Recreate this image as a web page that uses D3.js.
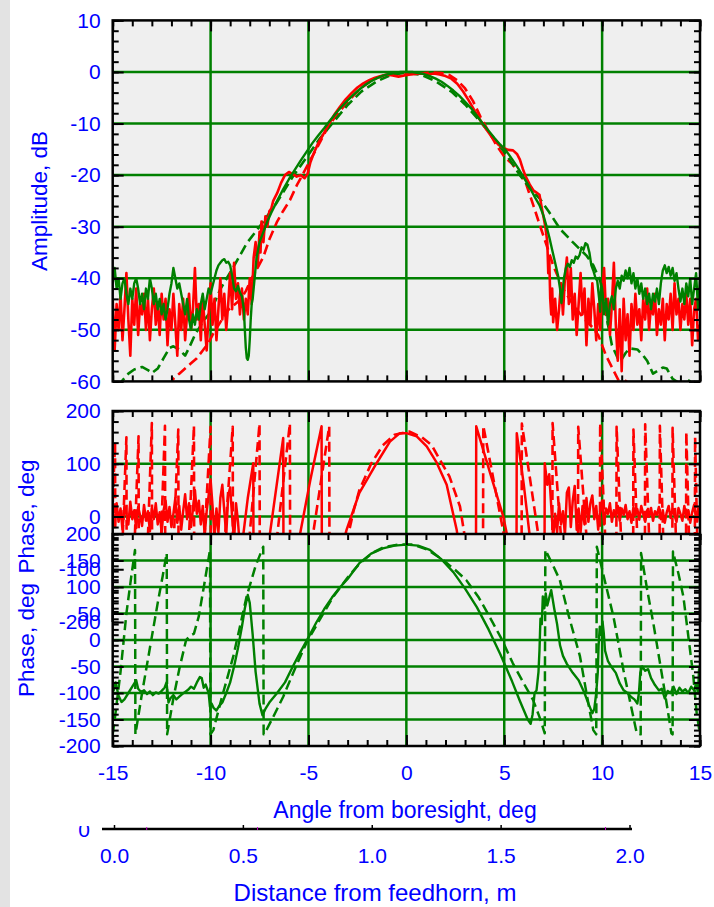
<!doctype html>
<html lang="en">
<head>
  <meta charset="utf-8">
  <style>
    body { margin: 0; background: #fff; }
    svg { display: block; }
  </style>
</head>
<body>
  <script src="https://d3js.org/d3.v7.min.js"></script>
  <div id="chart"></div>
  <script>
    // ---- tick values ----
    var angleMajor = [-15, -10, -5, 0, 5, 10, 15];
    var angleGrid = [-10, -5, 0, 5, 10];
    var ampTicks = [10, 0, -10, -20, -30, -40, -50, -60];
    var redPhaseTicks = [200, 100, 0, -100, -200];
    var greenPhaseTicks = [200, 150, 100, 50, 0, -50, -100, -150, -200];
    var distTicks = [0, 0.5, 1, 1.5, 2];

    // ---- amplitude, dB (sidelobe noise sampled every 0.1 deg) ----
    var ampRedNoiseL = [-44,-54,-45,-50,-43,-52,-46,-39,-48,-55,
      -44,-49,-42,-51,-45,-47,-43,-50,-44,-52,
      -46,-42,-49,-45,-51,-43,-48,-44,-53,-46,
      -50,-43,-49,-55,-45,-50,-44,-52,-47,-43,
      -50,-46,-38,-48,-45,-52,-44,-49,-54,-47,
      -41,-49,-44,-52,-46,-40,-48,-43,-50,-45,
      -39,-46,-37,-44,-41,-47,-42,-48,-44,-47,
      -40,-45,-36,-33];
    var ampRedLobe = [[-7.6,-38],[-7.5,-31],[-7.45,-35],[-7.4,-29],[-7.3,-33],[-7.2,-28],[-7.1,-30],[-7.0,-27],
      [-6.9,-26.5],[-6.8,-25],[-6.6,-23.5],[-6.4,-21.5],[-6.2,-20],[-6.0,-19.4],[-5.8,-19.8],[-5.6,-20.3],
      [-5.4,-20],[-5.2,-20.6],[-5.05,-19.8],[-4.9,-17.5],[-4.7,-15.5],[-4.5,-13.8],[-4.3,-12.5],[-4.0,-10.4],
      [-3.7,-8.4],[-3.4,-6.8],[-3.1,-5.3],[-2.8,-4.1],[-2.5,-3.0],[-2.2,-2.2],[-1.9,-1.6],[-1.6,-1.1],
      [-1.3,-0.8],[-1.0,-0.5],[-0.7,-0.7],[-0.4,-0.9],[-0.1,-0.7],[0.2,-0.5],[0.5,-0.4],[0.8,-0.3],
      [1.1,-0.5],[1.4,-0.3],[1.7,-0.5],[2.0,-0.8],[2.3,-1.3],[2.6,-2.3],[2.9,-3.8],[3.2,-5.6],[3.5,-7.6],
      [3.8,-9.5],[4.1,-11.2],[4.4,-12.8],[4.7,-14.1],[5.0,-14.8],[5.2,-15.1],[5.45,-15.2],[5.65,-15.9],
      [5.8,-17.0],[5.95,-18.8],[6.1,-20.3],[6.3,-21.8],[6.5,-23],[6.65,-23.4],[6.8,-23.8],[6.9,-26],
      [7.0,-28],[7.1,-30],[7.2,-33],[7.25,-39],[7.3,-36],[7.35,-44],[7.4,-47],[7.45,-42],[7.5,-48.5]];
    var ampRedNoiseR = [-44,-50,-46,-41,-47,-40,-36,-45,-38,-48,
      -43,-51,-45,-39,-47,-42,-53,-44,-49,-41,
      -46,-52,-45,-50,-43,-38,-47,-44,-51,-45,
      -37,-49,-56,-46,-58,-44,-52,-47,-55,-45,
      -50,-43,-49,-46,-52,-44,-48,-42,-50,-45,
      -47,-43,-51,-46,-49,-44,-52,-45,-48,-43,
      -50,-41,-47,-44,-50,-45,-48,-43,-49,-44,
      -53,-46,-44,-52,-49];
    var ampRedModel = [[-12.1,-61],[-11.9,-59.5],[-11.6,-58.5],[-11.3,-57.5],[-11.0,-56.5],[-10.7,-55.5],
      [-10.4,-54],[-10.1,-52.5],[-9.86,-50.7],[-9.5,-48.5],[-9.2,-46.5],[-8.9,-45.5],[-8.5,-44.2],[-8.2,-42.5],
      [-7.9,-40],[-7.6,-38],[-7.3,-35.8],[-7.0,-32.5],[-6.6,-29],[-6.3,-27],[-5.94,-24.8],[-5.6,-22],
      [-5.27,-19.7],[-4.9,-17],[-4.6,-15],[-4.3,-12.8],[-4.0,-10.7],[-3.6,-8.5],[-3.0,-5.8],[-2.6,-4.2],
      [-2.2,-2.8],[-1.8,-1.7],[-1.4,-1.0],[-1.0,-0.6],[-0.6,-0.4],[-0.2,-0.5],[0.2,-0.4],[0.6,-0.3],
      [1.0,-0.2],[1.4,-0.1],[1.8,-0.2],[2.2,-0.6],[2.6,-1.6],[3.0,-3.2],[3.4,-5.6],[3.8,-8.8],[4.2,-11.5],
      [4.6,-14.2],[5.0,-16.4],[5.4,-17.8],[5.8,-19.8],[6.1,-21.5],[6.5,-26],[6.8,-29.5],[7.2,-34],
      [7.5,-37.5],[8.0,-42],[8.5,-45],[9.0,-47.5],[9.5,-49.5],[9.8,-51],[10.2,-55],[10.6,-58],
      [10.8,-59.5],[11.0,-61],[11.3,-59.5],[11.5,-61]];
    var ampGreenNoiseL = [-41,-38,-42,-40,-44,-41,-40,-43,-45,-42,
      -44,-41,-40,-42,-45,-43,-46,-42,-44,-40,
      -42,-45,-43,-46,-44,-47,-45,-48,-46,-43,
      -41,-38,-40,-42,-41,-43,-45,-47,-44,-48,
      -50,-47,-49,-46,-48,-45,-43,-46,-44,-42,
      -43];
    var ampGreenLobe = [[-9.9,-41.5],[-9.8,-40],[-9.7,-38.5],[-9.6,-37.5],[-9.5,-37],[-9.4,-36.5],[-9.3,-36.3],
      [-9.2,-37],[-9.1,-36.8],[-9.0,-37.5],[-8.9,-39.5],[-8.8,-42],[-8.7,-42.5],[-8.6,-41.5],[-8.5,-42.8],
      [-8.4,-43.5],[-8.3,-46],[-8.25,-50],[-8.2,-53.5],[-8.15,-55.5],[-8.1,-55.8],[-8.05,-55],[-8.0,-52],
      [-7.95,-48],[-7.9,-45],[-7.85,-44],[-7.75,-40],[-7.65,-36],[-7.5,-33],[-7.3,-31],[-7.1,-29],
      [-6.9,-27.3],[-6.6,-25],[-6.3,-22.8],[-6.0,-20.8],[-5.7,-19],[-5.4,-17.2],[-5.1,-15.5],[-4.8,-13.8],
      [-4.5,-12.3],[-4.2,-10.9],[-3.9,-9.4],[-3.6,-8.0],[-3.3,-6.7],[-3.0,-5.5],[-2.7,-4.4],[-2.4,-3.4],
      [-2.1,-2.5],[-1.8,-1.8],[-1.5,-1.2],[-1.2,-0.7],[-0.9,-0.4],[-0.6,-0.2],[-0.3,0],[0,0],[0.3,0],
      [0.6,-0.2],[0.9,-0.4],[1.2,-0.8],[1.5,-1.3],[1.8,-1.9],[2.1,-2.7],[2.4,-3.6],[2.7,-4.6],[3.0,-5.8],
      [3.3,-7.0],[3.6,-8.5],[3.9,-10.0],[4.2,-11.4],[4.5,-12.8],[4.8,-14.1],[5.1,-15.3],[5.4,-16.9],
      [5.7,-18.6],[6.0,-20.5],[6.3,-22.4],[6.6,-24.5],[6.8,-25.8],[7.0,-27.8],[7.15,-29.8],[7.3,-32],
      [7.45,-34.5],[7.6,-37],[7.75,-39.5],[7.85,-42],[7.92,-44.8],[7.97,-43],[8.05,-40],[8.15,-38],
      [8.25,-37.2],[8.35,-37.8],[8.45,-36.5],[8.55,-37],[8.65,-35.8],[8.75,-36.2],[8.85,-35.5],[8.95,-34],
      [9.05,-34.5],[9.15,-33.2],[9.25,-33.5],[9.35,-35],[9.45,-37.5],[9.55,-38.5],[9.65,-39.8],[9.75,-40.5],
      [9.85,-44],[9.9,-46.5],[9.95,-41],[10.0,-42]];
    var ampGreenNoiseR = [-47,-44,-49,-45,-43.5,-46,-42,-40.5,-42,-39.5,
      -40.5,-38.5,-40,-38,-41,-39,-42,-40,-43,-41,
      -44,-42,-45,-43,-46,-43,-44.5,-42,-45,-41,
      -38.5,-37.5,-39,-37.8,-39.5,-38,-40.5,-39,-42,-44.5,
      -42,-45,-41,-43.5,-40,-45,-42,-39,-46,-40];
    var ampGreenModel = [[-14.7,-61],[-14.5,-59.8],[-14.2,-58.5],[-13.9,-57.7],[-13.5,-57.2],[-13.2,-57.8],
      [-13.0,-58.4],[-12.7,-57.5],[-12.4,-55.5],[-12.1,-53.5],[-11.9,-53.2],[-11.6,-53.8],[-11.3,-55],
      [-11.1,-53.5],[-10.8,-51],[-10.4,-48.5],[-10.0,-46.5],[-9.5,-42.1],[-8.8,-37.6],[-8.15,-33.2],
      [-7.5,-30],[-6.65,-25.5],[-5.8,-20.3],[-5.1,-16.6],[-4.4,-12.8],[-3.7,-9.6],[-3.0,-6.4],[-2.3,-3.8],
      [-1.5,-1.8],[-0.8,-0.6],[0,-0.1],[0.8,-0.6],[1.5,-1.8],[2.3,-3.8],[3.0,-6.3],[3.7,-9.3],[4.4,-12.5],
      [5.1,-16],[5.8,-20],[6.3,-22.5],[6.8,-24.5],[7.3,-27.2],[7.84,-30.4],[8.5,-33],[9.2,-35.6],
      [9.55,-37.5],[9.9,-40.5],[10.1,-44],[10.25,-48],[10.5,-53],[10.8,-55.5],[10.95,-56],[11.2,-54.5],
      [11.4,-53.6],[11.8,-53.8],[12.1,-55],[12.3,-56],[12.6,-58.5],[12.9,-57.8],[13.1,-57.3],[13.3,-57.5],
      [13.6,-59.5],[14.0,-60.5],[14.3,-60.8],[14.5,-59.5],[14.8,-60.5],[15.0,-61]];

    // ---- phase, deg (upper panel, red) ----
    var phRedNoiseL = [10,-20,25,-10,15,-25,20,5,-15,28,
      -5,12,-22,18,2,-18,22,-8,10,-28,
      15,-5,25,-15,8,-30,12,30,-10,18,
      -20,5,35,-12,20,-25,10,42,-5,25,
      -20,15,50,5,30,-15,20,-35,10,40,
      70,20,-40,15,-30,35,60,10,-35,40,
      55,0];
    var phRedMain = [[-8.8,-45],[-8.7,25],[-8.6,-10],[-8.5,-60],[-8.33,-35],[-8.1,35],[-7.82,101],[-7.8,-200],
      [-7.3,-120],[-6.97,-33],[-6.29,149],[-6.27,-200],[-5.7,-110],[-5.43,-33],[-4.9,70],[-4.33,171],
      [-4.31,-200],[-3.6,-100],[-3.05,-25],[-2.4,45],[-1.52,101],[-0.84,142],[-0.33,158],[0,158],
      [0.53,152],[1.04,133],[1.55,102],[2.06,60],[2.57,-25],[2.9,-110],[3.55,-200],[3.57,171],[4.3,80],
      [4.95,0],[5.2,-45],[5.62,-200],[5.64,158],[6.0,60],[6.29,-33],[6.6,-110],[7.05,-200],[7.07,101],
      [7.2,60],[7.3,80],[7.4,20],[7.5,-40],[7.6,5]];
    var phRedNoiseR = [-30,25,-15,10,-35,45,55,-20,30,58,
      -25,15,-30,20,-15,35,-10,25,40,-5,
      20,-25,10,30,-15,15,5,25,-10,12,
      0,20,-8,15,3,22,-5,10,-12,18,
      2,14,-6,20,5,-10,12,0,16,-8,
      10,3,18,-5,12,-12,8,20,-3,14,
      2,-10,16,5,-8,20,0,12,-12,8,
      22,-5,15,-10];
    // model: wrap positions [angle, peak phase, ramp width]
    var redModelTeethL = [[-14.88,140,0.35],[-14.3,150,0.35],[-13.68,152,0.35],[-13.0,177,0.35],
      [-12.33,172,0.35],[-11.65,165,0.4],[-10.85,172,0.45],[-10.0,170,0.55],[-8.87,170,0.7],
      [-7.5,176,0.9],[-5.95,176,1.15],[-3.94,171,1.5]];
    var redModelArch = [[-3.4,-200],[-3.0,-40],[-2.7,10],[-2.4,50],[-1.8,100],[-1.2,135],[-0.6,155],
      [0.17,161],[0.8,150],[1.3,135],[1.72,107],[2.2,76],[2.74,19],[2.95,-30],[3.4,-200]];
    var redModelTeethR = [[3.93,172,1.9],[5.9,176,1.5],[7.47,177,0.75],[8.78,170,0.75],[9.9,177,0.45],
      [10.74,170,0.4],[11.6,165,0.35],[12.2,175,0.35],[12.95,172,0.3],[13.6,168,0.3],[14.3,160,0.25],
      [14.75,150,0.2]];

    // ---- phase, deg (lower panel, green) ----
    var phGreen = [[-15.0,-76],[-14.95,-95],[-14.85,-80],[-14.7,-105],[-14.55,-117],[-14.4,-112],[-14.2,-100],
      [-14.0,-88],[-13.8,-76],[-13.7,-92],[-13.55,-98],[-13.4,-95],[-13.25,-102],[-13.1,-97],[-12.95,-104],
      [-12.8,-99],[-12.65,-101],[-12.5,-96],[-12.35,-90],[-12.25,-80],[-12.15,-118],[-12.05,-110],
      [-11.9,-104],[-11.75,-112],[-11.6,-107],[-11.45,-102],[-11.3,-98],[-11.15,-94],[-11.0,-88],
      [-10.85,-92],[-10.7,-80],[-10.55,-70],[-10.45,-72],[-10.35,-90],[-10.25,-84],[-10.1,-100],
      [-10.03,-126],[-9.95,-120],[-9.85,-128],[-9.7,-133],[-9.55,-124],[-9.4,-118],[-9.2,-100],[-9.0,-80],
      [-8.8,-50],[-8.6,-15],[-8.4,25],[-8.25,60],[-8.1,85],[-8.0,70],[-7.85,10],[-7.7,-60],[-7.5,-120],
      [-7.35,-142],[-7.2,-130],[-7.0,-118],[-6.6,-100],[-6.2,-80],[-5.8,-50],[-5.4,-22],[-5.0,5],[-4.6,33],
      [-4.2,58],[-3.8,80],[-3.4,99],[-3.0,115],[-2.4,145],[-1.8,163],[-1.2,173],[-0.6,178],[0,180],
      [0.6,178],[1.2,170],[1.8,152],[2.4,128],[3.0,97],[3.6,62],[4.2,20],[4.8,-27],[5.4,-78],[5.8,-115],
      [6.2,-150],[6.35,-158],[6.45,-140],[6.55,-100],[6.65,-95],[6.75,-60],[6.8,-20],[6.85,40],[6.92,30],
      [6.97,82],[7.05,60],[7.12,88],[7.2,65],[7.3,80],[7.4,94],[7.55,60],[7.7,30],[7.85,-10],[8.0,-30],
      [8.2,-45],[8.5,-62],[8.8,-76],[9.1,-100],[9.3,-120],[9.5,-138],[9.6,-130],[9.7,-100],[9.78,-60],
      [9.82,-10],[9.88,25],[9.95,10],[10.02,35],[10.08,15],[10.15,-20],[10.3,-40],[10.5,-52],[10.7,-62],
      [10.9,-82],[11.1,-95],[11.3,-100],[11.5,-108],[11.65,-112],[11.8,-120],[11.88,-100],[11.95,-62],
      [12.05,-50],[12.2,-58],[12.35,-55],[12.5,-72],[12.7,-85],[12.9,-95],[13.05,-92],[13.2,-110],
      [13.35,-96],[13.5,-100],[13.65,-88],[13.8,-102],[13.95,-90],[14.1,-97],[14.25,-93],[14.4,-100],
      [14.55,-88],[14.7,-95],[14.8,-82],[14.9,-100],[14.95,-55],[15.0,-90]];
    var phGreenModel = [[-15.0,-178],[-14.92,-157],[-14.6,-60],[-14.3,50],[-14.05,120],[-13.86,170],
      [-13.84,-178],[-13.5,-100],[-13.1,-15],[-12.7,70],[-12.45,120],[-12.24,164],[-12.22,-178],
      [-11.9,-110],[-11.6,-55],[-11.25,0],[-11.05,8],[-10.85,12],[-10.6,45],[-10.3,110],[-10.03,170],
      [-10.01,-178],[-9.86,-170],[-9.4,-105],[-8.84,-31],[-8.16,82],[-7.7,140],[-7.31,176],[-7.29,-178],
      [-7.23,-176],[-6.8,-145],[-6.29,-107],[-5.7,-55],[-5.1,-5],[-4.4,40],[-3.73,82],[-3.0,118],
      [-2.37,145],[-1.7,165],[-1.18,175],[-0.4,180],[0.34,180],[1.1,170],[1.87,151],[2.5,132],[3.06,113],
      [3.7,80],[4.25,44],[4.85,3],[5.44,-44],[6.0,-82],[6.47,-113],[6.8,-145],[7.07,-176],[7.1,170],
      [7.5,140],[7.84,113],[8.3,45],[8.87,-31],[9.2,-100],[9.55,-170],[9.7,-178],[9.73,176],[10.15,110],
      [10.58,44],[11.09,-57],[11.45,-120],[11.77,-176],[11.97,-178],[11.99,164],[12.3,95],[12.62,31],
      [13.13,-82],[13.54,-176],[13.6,-178],[13.62,167],[13.9,125],[14.15,82],[14.66,-69],[14.83,-138],
      [15.0,-178]];

    // ---- build series ----
    function sampled(start, vals) {
      return vals.map(function(v, i) { return [start + i * 0.1, v]; });
    }
    var ampRed = sampled(-15, ampRedNoiseL).concat(ampRedLobe, sampled(7.6, ampRedNoiseR));
    var ampGreen = sampled(-15, ampGreenNoiseL).concat(ampGreenLobe, sampled(10.1, ampGreenNoiseR));
    var phRed = sampled(-15, phRedNoiseL).concat(phRedMain, sampled(7.7, phRedNoiseR));
    var phRedModel = [];
    redModelTeethL.forEach(function(t) {
      phRedModel.push([t[0] - t[2], -200], [t[0], t[1]], [t[0] + 0.02, -200]);
    });
    phRedModel = phRedModel.concat(redModelArch);
    redModelTeethR.forEach(function(t) {
      phRedModel.push([t[0] - 0.02, -200], [t[0], t[1]], [t[0] + t[2], -200]);
    });

    // ---- layout ----
    var width = 714, height = 907;
    var FONT = '"Liberation Sans", Arial, Helvetica, sans-serif';
    var BLUE = "#0000ff", RED = "#ff0000", GREEN = "#008000", BG = "#efefef";
    var X0 = 112.7, X1 = 700;

    var x = d3.scaleLinear().domain([-15, 15]).range([X0, X1]);
    var yAmp = d3.scaleLinear().domain([-60, 10]).range([381.4, 20.4]);
    var yRed = d3.scaleLinear().domain([-200, 200]).range([622, 411]);
    var yGreen = d3.scaleLinear().domain([-200, 200]).range([746, 534]);
    var xDist = d3.scaleLinear().domain([0, 2]).range([114.5, 630]);

    var svg = d3.select("#chart").append("svg")
                .attr("width", width)
                .attr("height", height);
    svg.append("rect").attr("width", width).attr("height", height).attr("fill", "#fff");
    svg.append("rect").attr("width", 10).attr("height", height).attr("fill", "#e3e3e3");

    function panel(ys, id, gridY) {
      var top = ys.range()[1], bottom = ys.range()[0];
      svg.append("clipPath").attr("id", id).append("rect")
         .attr("x", X0).attr("y", top).attr("width", X1 - X0).attr("height", bottom - top);
      svg.append("rect")
         .attr("x", X0).attr("y", top).attr("width", X1 - X0).attr("height", bottom - top)
         .attr("fill", BG);
      var grid = svg.append("g").attr("stroke", GREEN).attr("stroke-width", 2.5);
      grid.selectAll(".vx").data(angleGrid).enter().append("line")
          .attr("x1", function(d) { return x(d); }).attr("x2", function(d) { return x(d); })
          .attr("y1", top).attr("y2", bottom);
      grid.selectAll(".hy").data(gridY).enter().append("line")
          .attr("x1", X0).attr("x2", X1)
          .attr("y1", function(d) { return ys(d); }).attr("y2", function(d) { return ys(d); });
      return svg.append("g").attr("clip-path", "url(#" + id + ")").attr("fill", "none");
    }

    function curve(g, ys, data, color, dashed, w) {
      g.append("path")
       .datum(data)
       .attr("d", d3.line().x(function(d) { return x(d[0]); }).y(function(d) { return ys(d[1]); }))
       .attr("stroke", color)
       .attr("stroke-width", w)
       .attr("stroke-linejoin", "round")
       .attr("stroke-dasharray", dashed ? "10,5" : null);
    }

    function addAxis(gen, tx, ty, vals, size, labels, pad) {
      var a = svg.append("g")
        .attr("transform", "translate(" + tx + "," + ty + ")")
        .call(gen.tickValues(vals).tickSize(size).tickSizeOuter(0).tickPadding(pad || 3)
                 .tickFormat(labels ? function(d) { return String(d); } : ""));
      a.select(".domain").remove();
      a.selectAll("line").attr("stroke", "#000").attr("stroke-width", 2);
      a.attr("font-family", FONT).attr("font-size", 21);
      a.selectAll("text").attr("fill", BLUE);
      return a;
    }

    function ticks(ys, yMaj, yMin, o) {
      var top = ys.range()[1], bottom = ys.range()[0];
      var xMin = d3.range(-15, 16, 1);
      addAxis(d3.axisLeft(ys), X0, 0, yMin, -6);
      addAxis(d3.axisLeft(ys), X0, 0, yMaj, -11, true, 12);
      addAxis(d3.axisRight(ys), X1, 0, yMin, -6);
      addAxis(d3.axisRight(ys), X1, 0, yMaj, -11);
      addAxis(d3.axisTop(x), 0, top, xMin, -6);
      addAxis(d3.axisTop(x), 0, top, angleMajor, -11);
      if (o.bottom) {
        addAxis(d3.axisBottom(x), 0, bottom, xMin, -6);
        addAxis(d3.axisBottom(x), 0, bottom, angleMajor, -11, o.xLabels, 19.5);
      }
      var f = svg.append("g").attr("fill", "none").attr("stroke", "#000").attr("stroke-width", 2.5);
      if (o.bottom) {
        f.append("rect").attr("x", X0).attr("y", top).attr("width", X1 - X0).attr("height", bottom - top);
      } else {
        f.append("path").attr("d", "M" + X0 + "," + bottom + "V" + top + "H" + X1 + "V" + bottom);
      }
    }

    // amplitude panel
    var gA = panel(yAmp, "clipAmp", [0, -10, -20, -30, -40, -50]);
    curve(gA, yAmp, ampRedModel, RED, true, 2.6);
    curve(gA, yAmp, ampGreenModel, GREEN, true, 2.6);
    curve(gA, yAmp, ampRed, RED, false, 2.6);
    curve(gA, yAmp, ampGreen, GREEN, false, 2.4);
    ticks(yAmp, ampTicks, d3.range(-60, 11, 2), {bottom: true, xLabels: false});

    // red phase panel (partly hidden under the green one)
    var gR = panel(yRed, "clipRed", [100, 0, -100]);
    curve(gR, yRed, phRedModel, RED, true, 2.6);
    curve(gR, yRed, phRed, RED, false, 2.5);

    // green phase panel
    var gG = panel(yGreen, "clipGreen", [150, 100, 50, 0, -50, -100, -150]);
    curve(gG, yGreen, phGreenModel, GREEN, true, 2.5);
    curve(gG, yGreen, phGreen, GREEN, false, 2.4);
    ticks(yGreen, greenPhaseTicks, d3.range(-200, 201, 10), {bottom: true, xLabels: true});

    // red panel axes drawn last
    ticks(yRed, redPhaseTicks, d3.range(-200, 201, 20), {bottom: false});

    // axis titles
    function title(txt, tx, ty, rot, size) {
      svg.append("text")
         .attr("transform", "translate(" + tx + "," + ty + ")" + (rot ? " rotate(-90)" : ""))
         .attr("text-anchor", "middle")
         .attr("font-family", FONT).attr("font-size", size || 22.5)
         .attr("fill", BLUE)
         .text(txt);
    }
    title("Amplitude, dB", 47, 201, true);
    title("Phase, deg", 34, 516.5, true);
    title("Phase, deg", 34, 640, true);
    title("Angle from boresight, deg", 405, 818, false, 23);
    title("Distance from feedhorn, m", 375, 901, false, 24);

    // distance axis
    svg.append("clipPath").attr("id", "clipZero").append("rect")
       .attr("x", 70).attr("y", 826).attr("width", 30).attr("height", 20);
    svg.append("text")
       .attr("clip-path", "url(#clipZero)")
       .attr("x", 84).attr("y", 837).attr("text-anchor", "middle")
       .attr("font-family", FONT).attr("font-size", 21).attr("fill", BLUE)
       .text("0");
    svg.append("line").attr("x1", 102).attr("x2", 632).attr("y1", 829).attr("y2", 829)
       .attr("stroke", "#000").attr("stroke-width", 2.5);
    svg.selectAll(".dtick").data(distTicks).enter().append("line")
       .attr("x1", function(d) { return xDist(d); }).attr("x2", function(d) { return xDist(d); })
       .attr("y1", 829).attr("y2", 825)
       .attr("stroke", "#000").attr("stroke-width", 1.5);
    svg.selectAll(".mtick").data([0.125, 0.555, 1.905]).enter().append("line")
       .attr("x1", function(d) { return xDist(d); }).attr("x2", function(d) { return xDist(d); })
       .attr("y1", 827).attr("y2", 830)
       .attr("stroke", "#c000c0").attr("stroke-width", 1);
    svg.selectAll(".dlab").data(distTicks).enter().append("text")
       .attr("x", function(d) { return xDist(d); }).attr("y", 863)
       .attr("text-anchor", "middle")
       .attr("font-family", FONT).attr("font-size", 21).attr("fill", BLUE)
       .text(function(d) { return d.toFixed(1); });
  </script>
</body>
</html>
